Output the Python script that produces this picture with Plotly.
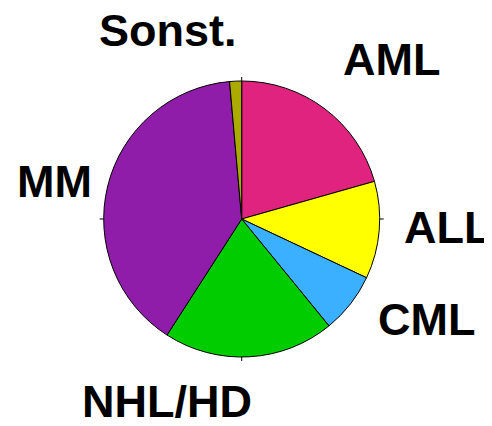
import plotly.graph_objects as go

# Data (percent shares)
categories = ["AML", "ALL", "CML", "NHL/HD", "MM", "Sonst."]
values = [20.6, 11.4, 7.1, 20.0, 39.5, 1.4]
colors = ["#E0237F", "#FFFF00", "#3BB0FF", "#00CC00", "#901DAA", "#AAAA00"]

OFF = 8  # default page body margin
W, H = 492 - OFF, 426 - OFF
cx, cy, r = 241.7 - OFF, 219.0 - OFF, 138.0  # pie centre / radius in figure pixels

fig = go.Figure()
fig.add_trace(go.Pie(
    labels=categories,
    values=values,
    sort=False,
    direction="clockwise",
    rotation=0,
    textinfo="none",
    hoverinfo="label+percent",
    marker=dict(colors=colors, line=dict(color="black", width=1)),
    domain=dict(x=[(cx - r) / W, (cx + r) / W],
                y=[1 - (cy + r) / H, 1 - (cy - r) / H]),
    showlegend=False,
))

# label positions (pixel centres in the window)
label_pos = {
    "Sonst.": (168, 30),
    "AML": (391, 60),
    "ALL": (447, 227),
    "CML": (426, 319),
    "MM": (54, 181),
    "NHL/HD": (167, 401),
}
for name in categories:
    px, py = label_pos[name]
    fig.add_annotation(
        x=(px - OFF) / W, y=1 - (py - OFF) / H, xref="paper", yref="paper",
        text=f"<b>{name}</b>", showarrow=False,
        xanchor="center", yanchor="middle",
        height=44 if name == "Sonst." else None,
        valign="middle",
        font=dict(family="Arial, Liberation Sans, sans-serif", size=45, color="black"),
    )

# small tick marks at the four cardinal points
tick = 4
shapes = []
for (x0, y0, x1, y1) in [
    (cx, cy - r - tick, cx, cy - r),
    (cx, cy + r, cx, cy + r + tick),
    (cx - r - tick, cy, cx - r, cy),
    (cx + r, cy, cx + r + tick, cy),
]:
    shapes.append(dict(type="line", xref="paper", yref="paper",
                       x0=x0 / W, x1=x1 / W, y0=1 - y0 / H, y1=1 - y1 / H,
                       line=dict(color="black", width=1)))

fig.update_layout(
    width=W, height=H,
    margin=dict(l=0, r=0, t=0, b=0),
    paper_bgcolor="white", plot_bgcolor="white",
    shapes=shapes,
)

fig.write_html("out.html")
